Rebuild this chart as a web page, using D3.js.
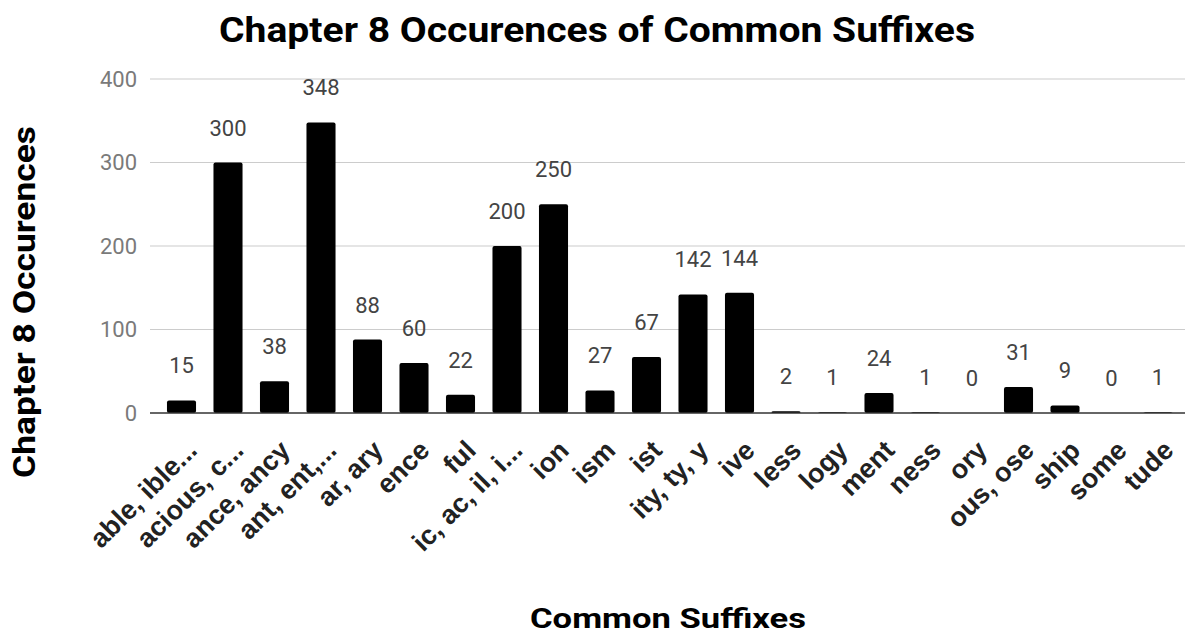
<!DOCTYPE html>
<html><head><meta charset="utf-8">
<script src="https://cdn.jsdelivr.net/npm/d3@7/dist/d3.min.js"></script>
<style>body{margin:0;background:#fff}svg{display:block}</style>
</head><body>
<svg id="c" width="1185" height="637"></svg>
<script>
const categories = ["able, ible...", "acious, c...", "ance, ancy", "ant, ent,...", "ar, ary", "ence", "ful", "ic, ac, il, i...", "ion", "ism", "ist", "ity, ty, y", "ive", "less", "logy", "ment", "ness", "ory", "ous, ose", "ship", "some", "tude"];
const values = [15, 300, 38, 348, 88, 60, 22, 200, 250, 27, 67, 142, 144, 2, 1, 24, 1, 0, 31, 9, 0, 1];
const yTicks = [0, 100, 200, 300, 400];
const title = "Chapter 8 Occurences of Common Suffixes";
const xTitle = "Common Suffixes";
const yTitle = "Chapter 8 Occurences";

const svg = d3.select("#c");
const font = "Roboto, 'Open Sans', sans-serif";
const x = d3.scaleBand().domain(categories).range([158.25, 1181.25]).paddingInner(0.375).paddingOuter(0.1875);
const y = d3.scaleLinear().domain([0, 400]).range([413, 79]);

// gridlines
svg.append("g").selectAll("line").data(yTicks.filter(d => d > 0)).join("line")
  .attr("x1", 150).attr("x2", 1185).attr("y1", d => y(d)).attr("y2", d => y(d))
  .attr("stroke", "#cccccc").attr("stroke-width", 1.2);

// y tick labels
svg.append("g").selectAll("text").data(yTicks).join("text")
  .attr("x", 137).attr("y", d => y(d)).attr("dy", "0.36em")
  .attr("text-anchor", "end").attr("font-family", font).attr("font-size", 22)
  .attr("fill", "#7a7a7a").text(d => d);

// bars
svg.append("g").selectAll("rect").data(values).join("rect")
  .attr("x", (d, i) => x(categories[i])).attr("width", x.bandwidth())
  .attr("y", d => y(d)).attr("height", d => y(0) - y(d))
  .attr("rx", 2).attr("fill", "#000");

// baseline
svg.append("line").attr("x1", 150).attr("x2", 1185).attr("y1", y(0)).attr("y2", y(0))
  .attr("stroke", "#333").attr("stroke-width", 1.5);

// value labels
svg.append("g").selectAll("text").data(values).join("text")
  .attr("x", (d, i) => x(categories[i]) + x.bandwidth() / 2)
  .attr("y", d => y(d) - 27)
  .attr("text-anchor", "middle").attr("font-family", font).attr("font-size", 22)
  .attr("fill", "#444").text(d => d);

// x labels
svg.append("g").selectAll("text").data(categories).join("text")
  .attr("transform", d => `translate(${x(d) + x.bandwidth() / 2 + 17},${452}) rotate(-45)`)
  .attr("text-anchor", "end").attr("font-family", "'Liberation Sans', Arial, sans-serif").attr("font-size", 27).attr("font-weight", 700)
  .attr("fill", "#222").text(d => d);

// titles
svg.append("text").attr("x", 597).attr("y", 42).attr("text-anchor", "middle")
  .attr("font-family", font).attr("font-size", 35).attr("font-weight", 700).attr("fill", "#000")
  .attr("textLength", 756).attr("lengthAdjust", "spacingAndGlyphs").text(title);
svg.append("text").attr("x", 668).attr("y", 628).attr("text-anchor", "middle")
  .attr("font-family", font).attr("font-size", 28).attr("font-weight", 700).attr("fill", "#000")
  .attr("textLength", 276).attr("lengthAdjust", "spacingAndGlyphs").text(xTitle);
svg.append("text").attr("transform", "translate(35,302) rotate(-90)").attr("text-anchor", "middle")
  .attr("font-family", font).attr("font-size", 31).attr("font-weight", 700).attr("fill", "#000")
  .attr("textLength", 352).attr("lengthAdjust", "spacingAndGlyphs").text(yTitle);
</script>
</body></html>
